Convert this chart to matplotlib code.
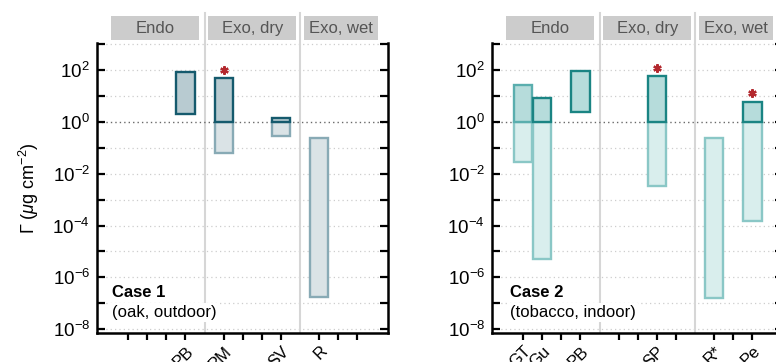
import matplotlib
matplotlib.use("Agg")
import matplotlib.pyplot as plt
import matplotlib.transforms as mtransforms
from matplotlib.patches import Rectangle
from matplotlib.ticker import FixedLocator, NullFormatter, LogFormatterSciNotation

plt.rcParams['font.family'] = ['Liberation Sans', 'DejaVu Sans']
plt.rcParams['mathtext.fontset'] = 'custom'
plt.rcParams['mathtext.rm'] = 'Liberation Sans'
plt.rcParams['mathtext.it'] = 'Liberation Sans:italic'
plt.rcParams['mathtext.bf'] = 'Liberation Sans:bold'

# ---------------- data ----------------
groups = ['Endo', 'Exo, dry', 'Exo, wet']
tick_slots = [1, 2, 3, 4, 6, 7, 8, 9, 11, 12, 13]

case1_title = 'Case 1'
case1_sub = '(oak, outdoor)'
cats1 = ['PB', 'PM', 'SV', 'R']
slots1 = [4, 6, 9, 11]
low1 = [2.0, 0.061, 0.30, 1.7e-7]
high1 = [88, 49, 1.4, 0.24]
star1 = [False, True, False, False]

case2_title = 'Case 2'
case2_sub = '(tobacco, indoor)'
cats2 = ['GT', 'Gu', 'PB', 'SP', 'R*', 'Pe']
slots2 = [1, 2, 4, 8, 11, 13]
low2 = [0.029, 4.9e-6, 2.4, 0.0033, 1.55e-7, 1.5e-4]
high2 = [27, 8.7, 89, 58, 0.23, 6.1]
star2 = [False, False, False, True, False, True]

# ---------------- style ----------------
sty1 = dict(up_fc='#b8cbd1', up_ec='#155a6d', lo_fc='#dae3e6', lo_ec='#88aab5')
sty2 = dict(up_fc='#b6dcdb', up_ec='#1a8483', lo_fc='#d9eeed', lo_ec='#8ac7c6')
star_color = '#b3282e'

fig = plt.figure(figsize=(7.76, 3.62), dpi=100)
W, H = 776, 362
ax1 = fig.add_axes([97 / W, 1 - 333 / H, 291 / W, 290 / H])
ax2 = fig.add_axes([492 / W, 1 - 333 / H, 291 / W, 290 / H])

XLIM = (-0.63, 14.6)
YLIM = (10 ** -8.15, 10 ** 3.05)
group_spans = [(0.1, 4.7), (5.2, 9.8), (10.2, 14.1)]
separators = [5, 10]


def draw_panel(ax, cats, slots, low, high, stars, sty, title, sub, text_x, ylabel=None):
    ax.set_yscale('log')
    ax.set_xlim(*XLIM)
    ax.set_ylim(*YLIM)

    # grid lines per decade
    for e in range(-8, 4):
        if e == 0:
            ax.axhline(1.0, color='#6a6a6a', lw=1.0, ls=(0, (1, 2.2)), zorder=1)
        else:
            ax.axhline(10.0 ** e, color='#cdcdcd', lw=0.9, ls=(0, (1, 2.5)), zorder=0.5)

    # separators
    trans = mtransforms.blended_transform_factory(ax.transData, ax.transAxes)
    for s in separators:
        ax.plot([s, s], [0, 1.103], transform=trans, color='#d6d6d6', lw=1.5,
                clip_on=False, zorder=0.8)

    # group strips
    for (a, b), g in zip(group_spans, groups):
        ax.add_patch(Rectangle((a, 1.010), b - a, 0.083, transform=trans,
                               facecolor='#cccccc', edgecolor='none', clip_on=False, zorder=2))
        ax.text((a + b) / 2, 1.0515, g, transform=trans, ha='center', va='center',
                fontsize=12, color='#555555', clip_on=False, zorder=3)

    w = 0.95
    for i, (x, lo, hi, st) in enumerate(zip(slots, low, high, stars)):
        if lo < 1:
            top = min(hi, 1.0)
            ax.add_patch(Rectangle((x - w / 2, lo), w, top - lo, facecolor=sty['lo_fc'],
                                   edgecolor=sty['lo_ec'], lw=1.7, zorder=3))
        if hi > 1:
            bot = max(lo, 1.0)
            ec = sty['up_ec']
            if cats[i] == 'GT':
                ec = '#5aaeae'
            ax.add_patch(Rectangle((x - w / 2, bot), w, hi - bot, facecolor=sty['up_fc'],
                                   edgecolor=ec, lw=1.7, zorder=4))
        if st:
            ax.plot([x], [hi * 10 ** (8.5 / 25.8)], marker=(6, 2, 0), ms=6,
                    mec=star_color, mew=1.6, zorder=5, clip_on=False)

    # ticks
    ax.yaxis.set_major_locator(FixedLocator([10.0 ** e for e in range(-8, 3, 2)]))
    ax.yaxis.set_major_formatter(LogFormatterSciNotation())
    ax.yaxis.set_minor_locator(FixedLocator([10.0 ** e for e in range(-7, 4, 2)]))
    ax.yaxis.set_minor_formatter(NullFormatter())
    ax.tick_params(axis='y', which='both', direction='in', length=5.5, width=1.6,
                   left=True, right=True, labelsize=13.5, pad=5)
    labels = []
    for s in tick_slots:
        labels.append(cats[slots.index(s)] if s in slots else '')
    ax.set_xticks(tick_slots)
    ax.set_xticklabels(labels, rotation=45, ha='right', va='top',
                       rotation_mode='anchor', fontsize=12)
    ax.tick_params(axis='x', direction='out', length=5, width=1.6, pad=2.5)

    for sp in ['left', 'right', 'bottom']:
        ax.spines[sp].set_linewidth(1.8)
        ax.spines[sp].set_zorder(6)
    ax.spines['top'].set_visible(False)

    bb = dict(facecolor='white', edgecolor='none', pad=1.5)
    ax.text(text_x, 0.138, title, transform=ax.transAxes, ha='left', va='center',
            fontsize=12, fontweight='bold', bbox=bb, zorder=7)
    ax.text(text_x, 0.069, sub, transform=ax.transAxes, ha='left', va='center',
            fontsize=12, bbox=bb, zorder=7)
    if ylabel:
        ax.set_ylabel(ylabel, fontsize=13, labelpad=8)


draw_panel(ax1, cats1, slots1, low1, high1, star1, sty1, case1_title, case1_sub, 0.053,
           ylabel=r'$\Gamma$ ($\mu$g cm$^{-2}$)')
draw_panel(ax2, cats2, slots2, low2, high2, star2, sty2, case2_title, case2_sub, 0.062)

fig.savefig('out.png', dpi=100)
